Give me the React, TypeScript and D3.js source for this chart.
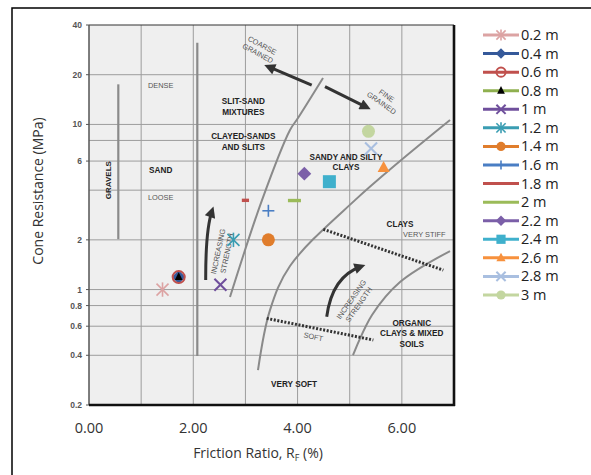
import React from "react";
import * as d3 from "d3";

// depth series
const depths = ["0.2 m", "0.4 m", "0.6 m", "0.8 m", "1 m", "1.2 m", "1.4 m", "1.6 m", "1.8 m", "2 m", "2.2 m", "2.4 m", "2.6 m", "2.8 m", "3 m"];
const frictionRatio = [1.41, 1.72, 1.72, 1.72, 2.52, 2.77, 3.44, 3.44, 3.0, 3.94, 4.13, 4.61, 5.65, 5.41, 5.36];
const coneResistance = [1.0, 1.19, 1.19, 1.19, 1.07, 2.0, 2.0, 3.0, 3.47, 3.46, 5.03, 4.5, 5.48, 7.15, 9.08];
const seriesColors = ["#dca3a3", "#35599a", "#c0504d", "#8fb04f", "#6f4f9c", "#3a9db2", "#e07d2c", "#4a7ec4", "#c0504d", "#9bbb59", "#7b5fa8", "#3fb0cc", "#f7913d", "#a9bfe0", "#c3d6a0"];
const markerKinds = ["star", "diamond", "ring", "triangleBlack", "x", "star", "circle", "plus", "dashShort", "dash", "diamond", "square", "triangle", "x", "circle"];

const xTicks = [0, 2, 4, 6];
const yTicks = [40, 20, 10, 6, 2, 1, 0.8, 0.6, 0.4, 0.2];
const xGrid = [1, 2, 3, 4, 5, 6];
const yGrid = [20, 10, 8, 6, 4, 2, 1, 0.8, 0.6, 0.4];

// soil classification background (in RF %, MPa)
const zoneCurves: [number, number][][] = [
  [[4.488, 19.1], [4.008, 10.93], [3.855, 9.25], [3.318, 3.48], [2.704, 0.901]],
  [[6.924, 10.63], [5.102, 3.48], [3.855, 1.388], [3.471, 0.751], [3.241, 0.325]],
  [[6.924, 1.711], [5.965, 1.11], [5.428, 0.701], [5.063, 0.401]],
];
const zoneVerticals: [number, number, number][] = [
  [0.562, 17.49, 2.02],
  [2.077, 31.26, 0.3955],
];
const dottedLines: [number, number][][] = [
  [[4.494, 2.316], [6.795, 1.312]],
  [[3.408, 0.669], [5.453, 0.495]],
];
const boldLabels: [string[], number, number][] = [
  [["SAND"], 1.375, 5.29],
  [["SLIT-SAND", "MIXTURES"], 2.959, 13.86],
  [["CLAYED-SANDS", "AND SLITS"], 2.959, 8.51],
  [["SANDY AND SILTY", "CLAYS"], 4.929, 6.37],
  [["CLAYS"], 5.965, 2.49],
  [["ORGANIC", "CLAYS & MIXED", "SOILS"], 6.189, 0.629],
  [["VERY SOFT"], 3.932, 0.268],
];
const thinLabels: [string[], number, number, number][] = [
  [["DENSE"], 1.375, 17.15, 0],
  [["LOOSE"], 1.375, 3.6, 0],
  [["VERY STIFF"], 6.431, 2.16, 0],
  [["SOFT"], 4.302, 0.518, 12],
  [["COARSE", "GRAINED"], 3.28, 28.5, 28],
  [["FINE", "GRAINED"], 5.66, 14.2, 35],
  [["INCREASING", "STRENGTH"], 5.102, 0.84, -55],
  [["INCREASING", "STRENGTH"], 2.56, 1.68, -78],
];

const W = 591;
const H = 475;
const x = d3.scaleLinear().domain([0, 7]).range([89, 454]);
const y = d3.scaleLog().domain([0.2, 40]).range([405, 25]);

const curveLine = d3
  .line<[number, number]>()
  .x((d) => x(d[0]))
  .y((d) => y(d[1]))
  .curve(d3.curveCatmullRom.alpha(0.5));

const Marker = ({ kind, cx, cy, color, s }: { kind: string; cx: number; cy: number; color: string; s: number }) => {
  switch (kind) {
    case "star":
      return (
        <g stroke={color} strokeWidth={1.6}>
          <line x1={cx - s} y1={cy - s} x2={cx + s} y2={cy + s} />
          <line x1={cx - s} y1={cy + s} x2={cx + s} y2={cy - s} />
          <line x1={cx} y1={cy - s * 1.2} x2={cx} y2={cy + s * 1.2} />
        </g>
      );
    case "x":
      return (
        <g stroke={color} strokeWidth={2}>
          <line x1={cx - s} y1={cy - s} x2={cx + s} y2={cy + s} />
          <line x1={cx - s} y1={cy + s} x2={cx + s} y2={cy - s} />
        </g>
      );
    case "plus":
      return (
        <g stroke={color} strokeWidth={1.6}>
          <line x1={cx - s} y1={cy} x2={cx + s} y2={cy} />
          <line x1={cx} y1={cy - s} x2={cx} y2={cy + s} />
        </g>
      );
    case "diamond":
      return <polygon points={`${cx},${cy - s * 1.15} ${cx + s * 1.15},${cy} ${cx},${cy + s * 1.15} ${cx - s * 1.15},${cy}`} fill={color} />;
    case "ring":
      return <circle cx={cx} cy={cy} r={s} fill="none" stroke={color} strokeWidth={2} />;
    case "triangleBlack":
      return <polygon points={`${cx},${cy - s * 0.8} ${cx + s * 0.65},${cy + s * 0.5} ${cx - s * 0.65},${cy + s * 0.5}`} fill="#000" />;
    case "triangle":
      return <polygon points={`${cx},${cy - s * 1.1} ${cx + s},${cy + s * 0.75} ${cx - s},${cy + s * 0.75}`} fill={color} />;
    case "circle":
      return <circle cx={cx} cy={cy} r={s} fill={color} />;
    case "square":
      return <rect x={cx - s} y={cy - s} width={s * 2} height={s * 2} fill={color} />;
    case "dashShort":
      return <rect x={cx - s * 0.6} y={cy - 1.7} width={s * 1.2} height={3.4} fill={color} />;
    case "dash":
      return <rect x={cx - s} y={cy - 1.7} width={s * 2} height={3.4} fill={color} />;
    default:
      return null;
  }
};

const markerSize = (kind: string) => (kind === "circle" || kind === "square" ? 6.5 : kind === "dash" ? 6.5 : kind === "dashShort" ? 6 : 6);

export default function App() {
  const legendY = (i: number) => 35 + i * 18.57;
  return (
    <svg width={W} height={H} style={{ position: "absolute", left: 0, top: 0, background: "#fff" }}>
      <defs>
        <marker id="ah" viewBox="0 0 10 10" refX="6" refY="5" markerWidth="13" markerHeight="11" markerUnits="userSpaceOnUse" orient="auto">
          <path d="M0,0 L10,5 L0,10 z" fill="#333" />
        </marker>
      </defs>
      {/* outer frame */}
      <path d={`M12,${H + 5} V8 H${W + 5}`} fill="none" stroke="#000" strokeWidth={1.5} />

      {/* plot background */}
      <rect x={x(0)} y={y(40)} width={x(7) - x(0)} height={y(0.2) - y(40)} fill="#efefef" />
      {xGrid.map((g) => (
        <line key={"gx" + g} x1={x(g)} x2={x(g)} y1={y(40)} y2={y(0.2)} stroke="#9c9c9c" strokeWidth={1} />
      ))}
      {yGrid.map((g) => (
        <line key={"gy" + g} x1={x(0)} x2={x(7)} y1={y(g)} y2={y(g)} stroke="#9c9c9c" strokeWidth={1} />
      ))}

      {/* zone boundaries */}
      {zoneVerticals.map(([rx, q0, q1], i) => (
        <line key={"zv" + i} x1={x(rx)} x2={x(rx)} y1={y(q0)} y2={y(q1)} stroke="#8a8a8a" strokeWidth={2.2} />
      ))}
      {zoneCurves.map((c, i) => (
        <path key={"zc" + i} d={curveLine(c) || ""} fill="none" stroke="#8a8a8a" strokeWidth={2} />
      ))}
      {dottedLines.map((c, i) => (
        <path key={"dl" + i} d={curveLine(c) || ""} fill="none" stroke="#333" strokeWidth={3} strokeDasharray="2,1.6" />
      ))}

      {/* coarse / fine grained arrows */}
      <line x1={x(4.271)} y1={y(17.32)} x2={x(3.439)} y2={y(22.36)} stroke="#333" strokeWidth={3} markerEnd="url(#ah)" />
      <line x1={x(4.526)} y1={y(16.92)} x2={x(5.326)} y2={y(12.69)} stroke="#333" strokeWidth={3} markerEnd="url(#ah)" />
      {/* increasing strength arrows */}
      <path
        d={`M${x(2.238)},${y(1.142)} Q${x(2.235)},${y(2.3)} ${x(2.36)},${y(3.0)}`}
        fill="none" stroke="#333" strokeWidth={3} markerEnd="url(#ah)"
      />
      <path
        d={`M${x(4.559)},${y(0.684)} Q${x(4.66)},${y(1.2)} ${x(5.22)},${y(1.38)}`}
        fill="none" stroke="#333" strokeWidth={3} markerEnd="url(#ah)"
      />

      {/* zone labels */}
      <text
        transform={`translate(${x(0.364)},${y(4.6)}) rotate(-90)`}
        textAnchor="middle" dy="0.35em"
        fontFamily="Liberation Sans, Arial" fontWeight="bold" fontSize={8} fill="#222"
      >
        GRAVELS
      </text>
      {boldLabels.map(([lines, rx, q], i) => (
        <text key={"bl" + i} x={x(rx)} y={y(q)} textAnchor="middle" fontFamily="Liberation Sans, Arial" fontWeight="bold" fontSize={8.2} fill="#222">
          {lines.map((t, j) => (
            <tspan key={j} x={x(rx)} dy={j === 0 ? "0.35em" : "1.3em"}>{t}</tspan>
          ))}
        </text>
      ))}
      {thinLabels.map(([lines, rx, q, rot], i) => (
        <text
          key={"tl" + i}
          transform={`translate(${x(rx)},${y(q)}) rotate(${rot})`}
          textAnchor="middle" fontFamily="Liberation Sans, Arial" fontSize={7.4} fill="#555"
        >
          {lines.map((t, j) => (
            <tspan key={j} x={0} y={(j - (lines.length - 1) / 2) * 9} dy="0.35em">{t}</tspan>
          ))}
        </text>
      ))}

      {/* plot border */}
      <line x1={x(0)} x2={x(7)} y1={y(40)} y2={y(40)} stroke="#333" strokeWidth={1.2} />
      <line x1={x(0)} x2={x(0)} y1={y(40)} y2={y(0.2)} stroke="#555" strokeWidth={1.5} />
      <line x1={x(0)} x2={x(7) + 1} y1={y(0.2)} y2={y(0.2)} stroke="#111" strokeWidth={2.6} />
      <line x1={x(7)} x2={x(7)} y1={y(40)} y2={y(0.2) + 1} stroke="#111" strokeWidth={2.6} />

      {/* y ticks */}
      {yTicks.map((t) => (
        <g key={"yt" + t}>
          <line x1={x(0) - 3} x2={x(0)} y1={y(t)} y2={y(t)} stroke="#555" strokeWidth={1} />
          <text x={82} y={y(t)} dy="0.35em" textAnchor="end" fontFamily="Liberation Sans, Arial" fontWeight="bold" fontSize={8.5} fill="#555">
            {t}
          </text>
        </g>
      ))}
      {/* x ticks */}
      {xTicks.map((t) => (
        <text key={"xt" + t} x={x(t)} y={428} dy="0.35em" textAnchor="middle" fontFamily="Open Sans" fontSize={14.5} fill="#333">
          {t.toFixed(2)}
        </text>
      ))}
      <text x={258} y={453} dy="0.35em" textAnchor="middle" fontFamily="Open Sans" fontSize={14} fill="#333">
        Friction Ratio, R<tspan fontSize={9} dy="3">F</tspan>
        <tspan dy="-3"> (%)</tspan>
      </text>
      <text transform={`translate(38,191) rotate(-90)`} dy="0.35em" textAnchor="middle" fontFamily="Open Sans" fontSize={14} fill="#333">
        Cone Resistance (MPa)
      </text>

      {/* data points */}
      {depths.map((d, i) => (
        <Marker key={"pt" + d} kind={markerKinds[i]} cx={x(frictionRatio[i])} cy={y(coneResistance[i])} color={seriesColors[i]} s={markerSize(markerKinds[i])} />
      ))}

      {/* legend */}
      {depths.map((d, i) => (
        <g key={"lg" + d}>
          <line x1={483} x2={519} y1={legendY(i)} y2={legendY(i)} stroke={seriesColors[i]} strokeWidth={3} />
          {markerKinds[i].startsWith("dash") ? null : (
            <Marker kind={markerKinds[i]} cx={501} cy={legendY(i)} color={seriesColors[i]} s={markerKinds[i] === "triangleBlack" ? 6 : 4.6} />
          )}
          <text x={521} y={legendY(i)} dy="0.35em" fontFamily="Open Sans" fontSize={14.5} fill="#222">
            {d}
          </text>
        </g>
      ))}
    </svg>
  );
}
